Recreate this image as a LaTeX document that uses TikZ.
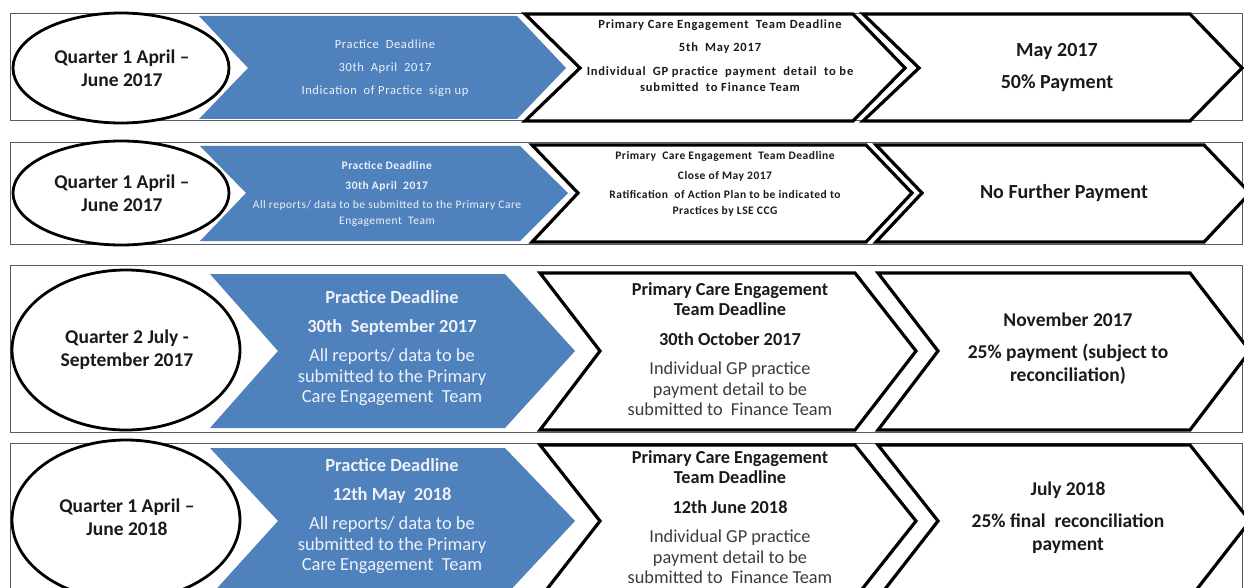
\documentclass[tikz,border=0pt]{standalone}
\usepackage{fontspec}
\setmainfont{Carlito}
\newfontfamily\spA[LetterSpace=5]{Carlito}
\newfontfamily\spB[LetterSpace=6.5]{Carlito}
\newfontfamily\spC[LetterSpace=4.5]{Carlito}
\definecolor{cblue}{HTML}{4F81BD}
\definecolor{frameg}{HTML}{5A5A5A}
\definecolor{lighttxt}{HTML}{EEF2F8}
\definecolor{darktxt}{HTML}{1A1A1A}
\definecolor{greytxt}{HTML}{3C3C3C}
\begin{document}
\begin{tikzpicture}[x=1pt,y=-1pt,
  rowframe/.style={draw=frameg,line width=1pt},
  qell/.style={draw=black,line width=2.8pt,fill=white},
  bluechev/.style={fill=cblue},
  wchev/.style={draw=black,line width=3.2pt,fill=white},
  txt/.style={align=center,inner sep=0pt,text=darktxt},
  wtxt/.style={align=center,inner sep=0pt,text=lighttxt}]
\useasboundingbox (0,0) rectangle (1244,588);
\clip (0,0) rectangle (1244,588);
\fill[white] (0,0) rectangle (1244,588);

% ---------- Row 1 ----------
\draw[rowframe] (10,13.5) rectangle (1242,120.5);
\draw[qell] (121,68) ellipse [x radius=108pt, y radius=55pt];
\fill[bluechev] (199,16) -- (517,16) -- (566,68) -- (517,119) -- (199,119) -- (248,68) -- cycle;
\draw[wchev] (525,14) -- (853,14) -- (905,68) -- (853,121) -- (525,121) -- (580,68) -- cycle;
\draw[wchev] (863,14) -- (1190,14) -- (1242,68) -- (1190,121) -- (863,121) -- (919,68) -- cycle;
\node[txt,font=\bfseries\fontsize{19.5}{23}\selectfont] (q1) at (122,68.5) {Quarter 1 April --\\June 2017};
\node[wtxt,font=\spA\fontsize{12.5}{23}\selectfont] (b1) at (385,68) {Practice\ \ Deadline\\30th\ \ April\ \ 2017\\Indication\ \ of\ Practice\ \ sign\ up};
\node[txt,font=\spB\bfseries\fontsize{12.5}{16}\selectfont] (c1) at (720,55.5) {Primary\ Care Engagement\ \ Team Deadline\\[7pt]5th\ \ May 2017\\[8pt]Individual\ \ GP practice\ \ payment\ \ detail\ \ to\ be\\submitted\ \ to\ Finance Team};
\node[txt,font=\bfseries\fontsize{20}{32}\selectfont] (p1) at (1057,68) {May 2017\\50\% Payment};

% ---------- Row 2 ----------
\draw[rowframe] (10,143) rectangle (1242,244);
\draw[qell] (121,193) ellipse [x radius=108pt, y radius=52pt];
\fill[bluechev] (200,146) -- (520,146) -- (568,193) -- (520,241) -- (200,241) -- (246,193) -- cycle;
\draw[wchev] (532,145) -- (866,145) -- (912,193) -- (866,242) -- (532,242) -- (578,193) -- cycle;
\draw[wchev] (876,145) -- (1204,145) -- (1250,193) -- (1204,242) -- (876,242) -- (922,193) -- cycle;
\node[txt,font=\bfseries\fontsize{19.5}{23}\selectfont] (q2) at (122,193) {Quarter 1 April --\\June 2017};
\node[wtxt,font=\spC\fontsize{11.5}{16}\selectfont] (b2) at (387,193.5) {\textbf{Practice Deadline}\\[4pt]\textbf{30th April\ \ 2017}\\[3pt]All reports/ data to be submitted to the Primary Care\\Engagement\ \ Team};
\node[txt,font=\spC\bfseries\fontsize{11.5}{16}\selectfont] (c2) at (725,183.5) {Primary\ \ Care Engagement\ \ Team Deadline\\[4pt]Close of May 2017\\[3pt]Ratification\ \ of Action Plan to be indicated to\\Practices by LSE CCG};
\node[txt,font=\bfseries\fontsize{20}{23}\selectfont] (p2) at (1064,193) {No Further Payment};

% ---------- Row 3 ----------
\draw[rowframe] (10,265) rectangle (1242,432);
\draw[qell] (126,350) ellipse [x radius=114pt, y radius=80pt];
\fill[bluechev] (210,274) -- (505,274) -- (575,351) -- (505,428) -- (210,428) -- (278,351) -- cycle;
\draw[wchev] (540,273) -- (855,273) -- (916,351) -- (855,430) -- (540,430) -- (600,351) -- cycle;
\draw[wchev] (878,273) -- (1190,273) -- (1250,351) -- (1190,430) -- (878,430) -- (938,351) -- cycle;
\node[txt,font=\bfseries\fontsize{19.5}{23}\selectfont] (q3) at (127,349.5) {Quarter 2 July -\\September 2017};
\node[wtxt,font=\fontsize{18.5}{20.5}\selectfont] (b3) at (392,348.5) {\textbf{Practice Deadline}\\[8.5pt]\textbf{30th\ \ September 2017}\\[8.5pt]All reports/ data to be\\submitted to the Primary\\Care Engagement\ \ Team};
\node[txt,font=\fontsize{18.3}{20.5}\selectfont] (c3) at (730,349) {\textbf{Primary Care Engagement}\\\textbf{Team Deadline}\\[9.5pt]\textbf{30th October 2017}\\[8.5pt]\textcolor{greytxt}{Individual GP practice}\\\textcolor{greytxt}{payment detail to be}\\\textcolor{greytxt}{submitted to\ \ Finance Team}};
\node[txt,font=\bfseries\fontsize{19.5}{23}\selectfont] (p3) at (1068,348.5) {November 2017\\[9pt]25\% payment (subject to\\reconciliation)};

% ---------- Row 4 ----------
\draw[rowframe] (10,443) rectangle (1242,640);
\draw[qell] (126,520) ellipse [x radius=114pt, y radius=80pt];
\fill[bluechev] (210,448) -- (505,448) -- (575,521) -- (505,596) -- (210,596) -- (278,521) -- cycle;
\draw[wchev] (540,445) -- (855,445) -- (916,521) -- (855,598) -- (540,598) -- (600,521) -- cycle;
\draw[wchev] (878,445) -- (1190,445) -- (1250,521) -- (1190,598) -- (878,598) -- (938,521) -- cycle;
\node[txt,font=\bfseries\fontsize{19.5}{23}\selectfont] (q4) at (127,517.5) {Quarter 1 April --\\June 2018};
\node[wtxt,font=\fontsize{18.5}{20.5}\selectfont] (b4) at (392,516.5) {\textbf{Practice Deadline}\\[8.5pt]\textbf{12th May\ \ 2018}\\[8.5pt]All reports/ data to be\\submitted to the Primary\\Care Engagement\ \ Team};
\node[txt,font=\fontsize{18.3}{20.5}\selectfont] (c4) at (730,517) {\textbf{Primary Care Engagement}\\\textbf{Team Deadline}\\[9.5pt]\textbf{12th June 2018}\\[8.5pt]\textcolor{greytxt}{Individual GP practice}\\\textcolor{greytxt}{payment detail to be}\\\textcolor{greytxt}{submitted to\ \ Finance Team}};
\node[txt,font=\bfseries\fontsize{19.5}{23}\selectfont] (p4) at (1068,517.5) {July 2018\\[9pt]25\% final\ \ reconciliation\\payment};
\end{tikzpicture}
\end{document}
